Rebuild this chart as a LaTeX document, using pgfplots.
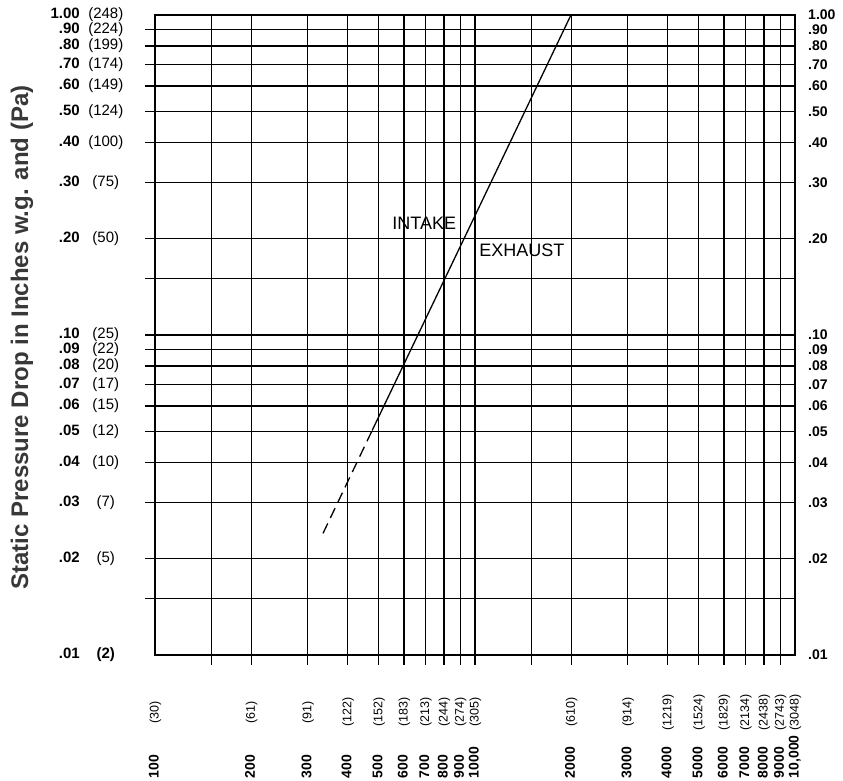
\documentclass[border=0pt]{standalone}
\usepackage{fontspec}
\setmainfont{Liberation Sans}
\usepackage{pgfplots}
\pgfplotsset{compat=1.18}
\newcommand{\yl}[2]{\makebox[30pt][r]{\fontsize{15}{15}\selectfont\bfseries #1}\hspace{6pt}\makebox[40pt][c]{\fontsize{15}{15}\selectfont #2}}
\newcommand{\ylb}[2]{\makebox[30pt][r]{\fontsize{15}{15}\selectfont\bfseries #1}\hspace{6pt}\makebox[40pt][c]{\fontsize{15}{15}\selectfont\bfseries #2}}
\newcommand{\xl}[2]{\makebox[44pt][l]{\fontsize{14}{14}\selectfont\bfseries #1}\makebox[44pt][c]{\fontsize{12.5}{12.5}\selectfont #2}}
\newcommand{\rl}[1]{\fontsize{14}{14}\selectfont\bfseries #1}
\begin{document}
\begin{tikzpicture}
\path[use as bounding box] (-155pt,-125pt) rectangle (688pt,655pt);
\begin{axis}[
  at={(0pt,0pt)}, anchor=south west, scale only axis,
  width=640pt, height=640pt,
  xmode=log, ymode=log,
  xmin=100, xmax=10000, ymin=0.01, ymax=1,
  axis line style={line width=1.3pt},
  major grid style={black, line width=1.2pt},
  tick pos=left, tick align=outside, major tick length=0pt,
  tick style={black, line width=1.2pt},
  xminorticks=false, yminorticks=false,
  ytick={0.01,0.02,0.03,0.04,0.05,0.06,0.07,0.08,0.09,0.1,0.2,0.3,0.4,0.5,0.6,0.7,0.8,0.9,1},
  yticklabels={{\ylb{.01}{(2)}},{\yl{.02}{(5)}},{\yl{.03}{(7)}},{\yl{.04}{(10)}},{\yl{.05}{(12)}},{\yl{.06}{(15)}},{\yl{.07}{(17)}},{\yl{.08}{(20)}},{\yl{.09}{(22)}},{\yl{.10}{(25)}},{\yl{.20}{(50)}},{\yl{.30}{(75)}},{\yl{.40}{(100)}},{\yl{.50}{(124)}},{\yl{.60}{(149)}},{\yl{.70}{(174)}},{\yl{.80}{(199)}},{\yl{.90}{(224)}},{\yl{1.00}{(248)}}},
  xtick={100,200,300,400,500,600,700,800,900,1000,2000,3000,4000,5000,6000,7000,8000,9000,10000},
  xticklabels={{\xl{100}{(30)}},{\xl{200}{(61)}},{\xl{300}{(91)}},{\xl{400}{(122)}},{\xl{500}{(152)}},{\xl{600}{(183)}},{\xl{700}{(213)}},{\xl{800}{(244)}},{\xl{900}{(274)}},{\xl{1000}{(305)}},{\xl{2000}{(610)}},{\xl{3000}{(914)}},{\xl{4000}{(1219)}},{\xl{5000}{(1524)}},{\xl{6000}{(1829)}},{\xl{7000}{(2134)}},{\xl{8000}{(2438)}},{\xl{9000}{(2743)}},{\xl{10{,}000}{(3048)}}},
  extra x ticks={150,200,300,400,500,600,700,800,900,1000,1500,2000,3000,4000,5000,6000,7000,8000,9000},
  extra x tick labels={},
  extra y ticks={0.015,0.02,0.03,0.04,0.05,0.06,0.07,0.08,0.09,0.1,0.15,0.2,0.3,0.4,0.5,0.6,0.7,0.8,0.9},
  extra y tick labels={},
  extra x tick style={major tick length=10pt, grid=major},
  extra y tick style={major tick length=10pt, grid=major},
  xticklabel style={rotate=90, anchor=east, inner sep=0pt},
  xticklabel shift=35pt,
  yticklabel style={anchor=east, inner sep=0pt},
  yticklabel shift=29pt,
  ylabel={Static Pressure Drop in Inches w.g. and (Pa)},
  ylabel style={at={(axis description cs:-0.208,0.496)}, anchor=center,
    font=\fontsize{24}{24}\selectfont\bfseries, text=black!78},
]
\addplot[black, line width=1.3pt] coordinates {(477,0.0503) (700,0.112) (1000,0.236) (1995,1.0)};
\addplot[black, line width=1.3pt, dash pattern=on 11pt off 6pt] coordinates {(335,0.024) (477,0.0503)};
\node[font=\fontsize{18}{18}\selectfont] at (axis cs:694,0.224) {INTAKE};
\node[font=\fontsize{18}{18}\selectfont] at (axis cs:1402,0.1845) {EXHAUST};
\end{axis}
\begin{axis}[
  at={(0pt,0pt)}, anchor=south west, scale only axis,
  width=640pt, height=640pt,
  xmode=log, ymode=log,
  xmin=100, xmax=10000, ymin=0.01, ymax=1,
  hide x axis, axis y line*=right, y axis line style={draw=none},
  major tick length=0pt, yminorticks=false,
  ytick={0.01,0.02,0.03,0.04,0.05,0.06,0.07,0.08,0.09,0.1,0.2,0.3,0.4,0.5,0.6,0.7,0.8,0.9,1},
  yticklabels={{\rl{.01}},{\rl{.02}},{\rl{.03}},{\rl{.04}},{\rl{.05}},{\rl{.06}},{\rl{.07}},{\rl{.08}},{\rl{.09}},{\rl{.10}},{\rl{.20}},{\rl{.30}},{\rl{.40}},{\rl{.50}},{\rl{.60}},{\rl{.70}},{\rl{.80}},{\rl{.90}},{\rl{1.00}}},
  yticklabel style={anchor=west, inner sep=0pt},
  yticklabel shift=13pt,
]
\end{axis}
\end{tikzpicture}
\end{document}
